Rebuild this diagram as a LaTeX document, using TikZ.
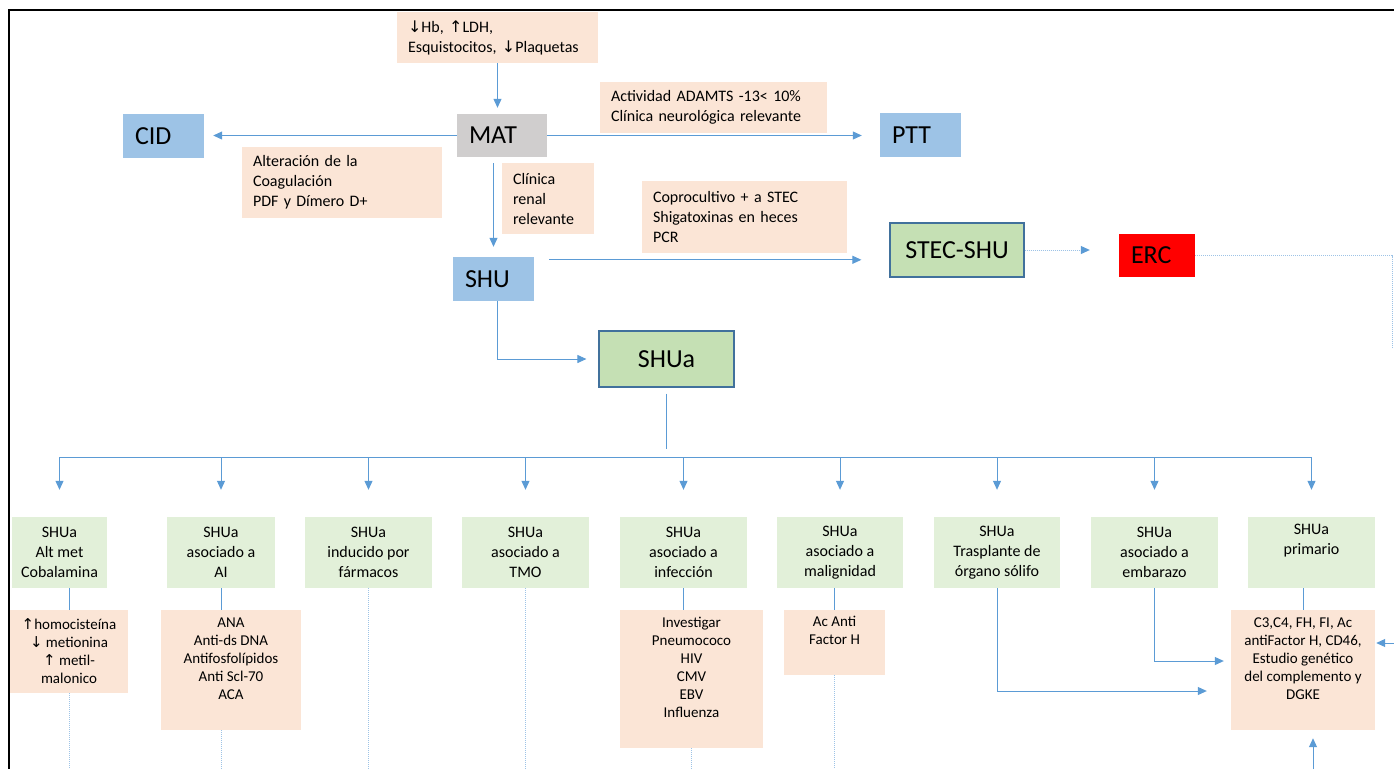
\documentclass[tikz,border=0pt]{standalone}
\usepackage{fontspec}
\setmainfont{Carlito}
\newfontfamily\arrowfont{DejaVu Sans}
\usepackage{xcolor}
\usetikzlibrary{calc}
\usetikzlibrary{arrows.meta}
\definecolor{linkblue}{HTML}{5B9BD5}
\definecolor{dotblue}{HTML}{9DC3E6}
\definecolor{boxblue}{HTML}{9DC3E6}
\definecolor{boxgray}{HTML}{D0CECE}
\definecolor{boxgreen}{HTML}{C5E0B4}
\definecolor{lightgreen}{HTML}{E2F0D9}
\definecolor{notepink}{HTML}{FBE5D6}
\definecolor{edgeblue}{HTML}{41719C}
\tikzset{
  every node/.style = {font=\fontsize{16}{20}\selectfont, inner sep=0pt}
}
\tikzset{
    >={Triangle[length=9pt,width=8pt,color=linkblue]}
}
\tikzset{
  bigbox/.style = {fill=boxblue, font=\fontsize{26}{30}\selectfont, align=left,
    minimum height=44pt, minimum width=#1, text width={#1-24pt}},
  mainbox/.style = {fill=boxgreen, draw=edgeblue, line width=1.2pt,
    font=\fontsize{26}{30}\selectfont, minimum width=#1},
  notebox/.style = {fill=notepink, align=left, minimum width=#1, text width={#1-22pt}},
  typebox/.style = {fill=lightgreen, align=center, minimum width=#1, minimum height=71pt},
  testbox/.style = {fill=notepink, align=center, font=\fontsize{15}{18}\selectfont,
    minimum width=#1},
  link/.style = {draw=linkblue, line width=1pt},
  faint/.style = {draw=dotblue, line width=1pt, densely dotted}
}
\newcommand{\abajo}{{\arrowfont ↓}}
\newcommand{\arriba}{{\arrowfont ↑}}

\begin{document}
\begin{tikzpicture}[x=1pt,y=-1pt]
\useasboundingbox (0,0) rectangle (1394,769);
\coordinate (bottom) at (0,769);
\coordinate (bus) at (0,457);

% The frame
\draw[line width=2.5pt] (1394,10) -- (9,10) -- (9,769);

% Upper part
\node[notebox=201pt, minimum height=51pt] (labs) at (497.5,37.5)
  {\abajo Hb, \arriba LDH,\\Esquistocitos, \abajo Plaquetas};
\node[bigbox=90pt, fill=boxgray, minimum height=43pt] (mat) at (502,135.5) {MAT};
\node[bigbox=81pt] (cid) at (163.5,136) {CID};
\node[bigbox=81pt] (ptt) at (920.5,135) {PTT};
\node[bigbox=81pt] (shu) at (493.5,279) {SHU};
\node[bigbox=76pt, fill=red, minimum height=43pt] (erc) at (1157,255.5) {ERC};
\node[mainbox=134pt, minimum height=54pt] (stec) at (957,250) {STEC-SHU};
\node[mainbox=135pt, minimum height=56pt] (shua) at (666.5,359) {SHUa};

% Criteria
\node[notebox=227pt, minimum height=51pt] (adamts) at (713.5,107.5)
  {Actividad ADAMTS -13< 10\%\\Clínica neurológica relevante};
\node[notebox=200pt, minimum height=71pt] (coag) at (342,182.5)
  {Alteración de la\\Coagulación\\PDF y Dímero D+};
\node[notebox=92pt, minimum height=71pt] (renal) at (548,198.5)
  {Clínica\\renal\\relevante};
\node[notebox=205pt, minimum height=72pt] (copro) at (744.5,217)
  {Coprocultivo + a STEC\\Shigatoxinas en heces\\PCR};

% Types of SHUa
\node[typebox=95pt] (b1) at (59.5,552.5) {SHUa\\Alt met\\Cobalamina};
\node[typebox=108pt] (b2) at (221,552.5) {SHUa\\asociado a\\AI};
\node[typebox=127pt] (b3) at (368.5,552.5) {SHUa\\inducido por\\fármacos};
\node[typebox=127pt] (b4) at (525.5,552.5) {SHUa\\asociado a\\TMO};
\node[typebox=127pt] (b5) at (683.5,552.5) {SHUa\\asociado a\\infección};
\node[typebox=126pt] (b6) at (840,552.5) {SHUa\\asociado a\\malignidad};
\node[typebox=126pt] (b7) at (997,552.5) {SHUa\\Trasplante de\\órgano sólifo};
\node[typebox=127pt] (b8) at (1154.5,552.5) {SHUa\\asociado a\\embarazo};
\node[typebox=127pt] (b9) at (1311.5,552.5) {SHUa\\primario\\\strut};

% Tests
\node[testbox=118pt, minimum height=83pt] (p1) at (69,651.5)
  {\arriba homocisteína\\\abajo\ metionina\\\arriba\ metil-\\malonico};
\node[testbox=140pt, minimum height=120pt] (p2) at (231,670)
  {ANA\\Anti-ds DNA\\Antifosfolípidos\\Anti Scl-70\\ACA\\\strut};
\node[testbox=143pt, minimum height=138pt] (p5) at (691.5,679)
  {Investigar\\Pneumococo\\HIV\\CMV\\EBV\\Influenza\\\strut};
\node[testbox=101pt, minimum height=65pt] (p6) at (834.5,642.5)
  {Ac Anti\\Factor H\\\strut};
\node[testbox=144pt, minimum height=120pt] (p9) at (1303,670)
  {C3,C4, FH, FI, Ac\\antiFactor H, CD46,\\Estudio genético\\del complemento y\\DGKE\\\strut};

% Arrows, upper part
\draw[link,->,shorten >=6pt] (labs.south) -- (labs.south |- mat.north);
\draw[link,->,shorten >=9pt] (mat.west) -- (mat.west -| cid.east);
\draw[link,->,shorten >=18pt] (mat.east) -- (mat.east -| ptt.west);
\draw[link,->,shorten <=6pt,shorten >=10pt] (mat.south -| shu.north) -- (shu.north);
\coordinate (shuout) at ($(shu.north east)+(0,3)$);
\draw[link,->,shorten <=15pt,shorten >=28pt] (shuout) -- (shuout -| stec.west);
\draw[faint,->,shorten >=29pt] (stec.east) -- (stec.east -| erc.west);
\coordinate (ercend) at (1392,348);
\draw[faint] (erc.east) -| (ercend);
\draw[link,->,shorten >=12pt] ([xshift=4pt]shu.south) |- (shua.west);
\draw[link,shorten <=6pt,shorten >=8pt] (shua.south) -- (shua.south |- bus);

% The bus
\draw[link] (b1.north |- bus) -- (b9.north |- bus);
\draw[link,->,shorten >=27pt] (b1.north |- bus) -- (b1.north);
\draw[link,->,shorten >=27pt] (b2.north |- bus) -- (b2.north);
\draw[link,->,shorten >=27pt] (b3.north |- bus) -- (b3.north);
\draw[link,->,shorten >=27pt] (b4.north |- bus) -- (b4.north);
\draw[link,->,shorten >=27pt] (b5.north |- bus) -- (b5.north);
\draw[link,->,shorten >=27pt] (b6.north |- bus) -- (b6.north);
\draw[link,->,shorten >=27pt] (b7.north |- bus) -- (b7.north);
\draw[link,->,shorten >=27pt] (b8.north |- bus) -- (b8.north);
\draw[link,->,shorten >=27pt] (b9.north |- bus) -- (b9.north);

% Types to tests
\draw[link] (p1.north |- b1.south) -- (p1.north);
\draw[link] (b2.south) -- (b2.south |- p2.north);
\draw[link] (b5.south) -- (b5.south |- p5.north);
\draw[link] (p6.north |- b6.south) -- (p6.north);
\draw[link] (p9.north |- b9.south) -- (p9.north);

% Dotted lines down
\draw[faint] (p1.south) -- (p1.south |- bottom);
\draw[faint] (b2.south |- p2.south) -- (b2.south |- bottom);
\draw[faint] (b3.south) -- (b3.south |- bottom);
\draw[faint] (b4.south) -- (b4.south |- bottom);
\draw[faint] (p5.south) -- (p5.south |- bottom);
\draw[faint] (p6.south) -- (p6.south |- bottom);

% Into the complement study
\draw[link,->,shorten >=24pt] (b7.south) |- ([yshift=-21pt]p9.west);
\draw[link,->,shorten >=7pt] (b8.south) |- ([yshift=9pt]p9.west);
\coordinate (rightin) at (1394,643);
\draw[link,->,shorten >=1pt] (rightin) -- (rightin -| p9.east);
\coordinate (p9in) at ([xshift=10pt]p9.south);
\draw[link,->,shorten >=8pt] (p9in |- bottom) -- (p9in);
\end{tikzpicture}
\end{document}
